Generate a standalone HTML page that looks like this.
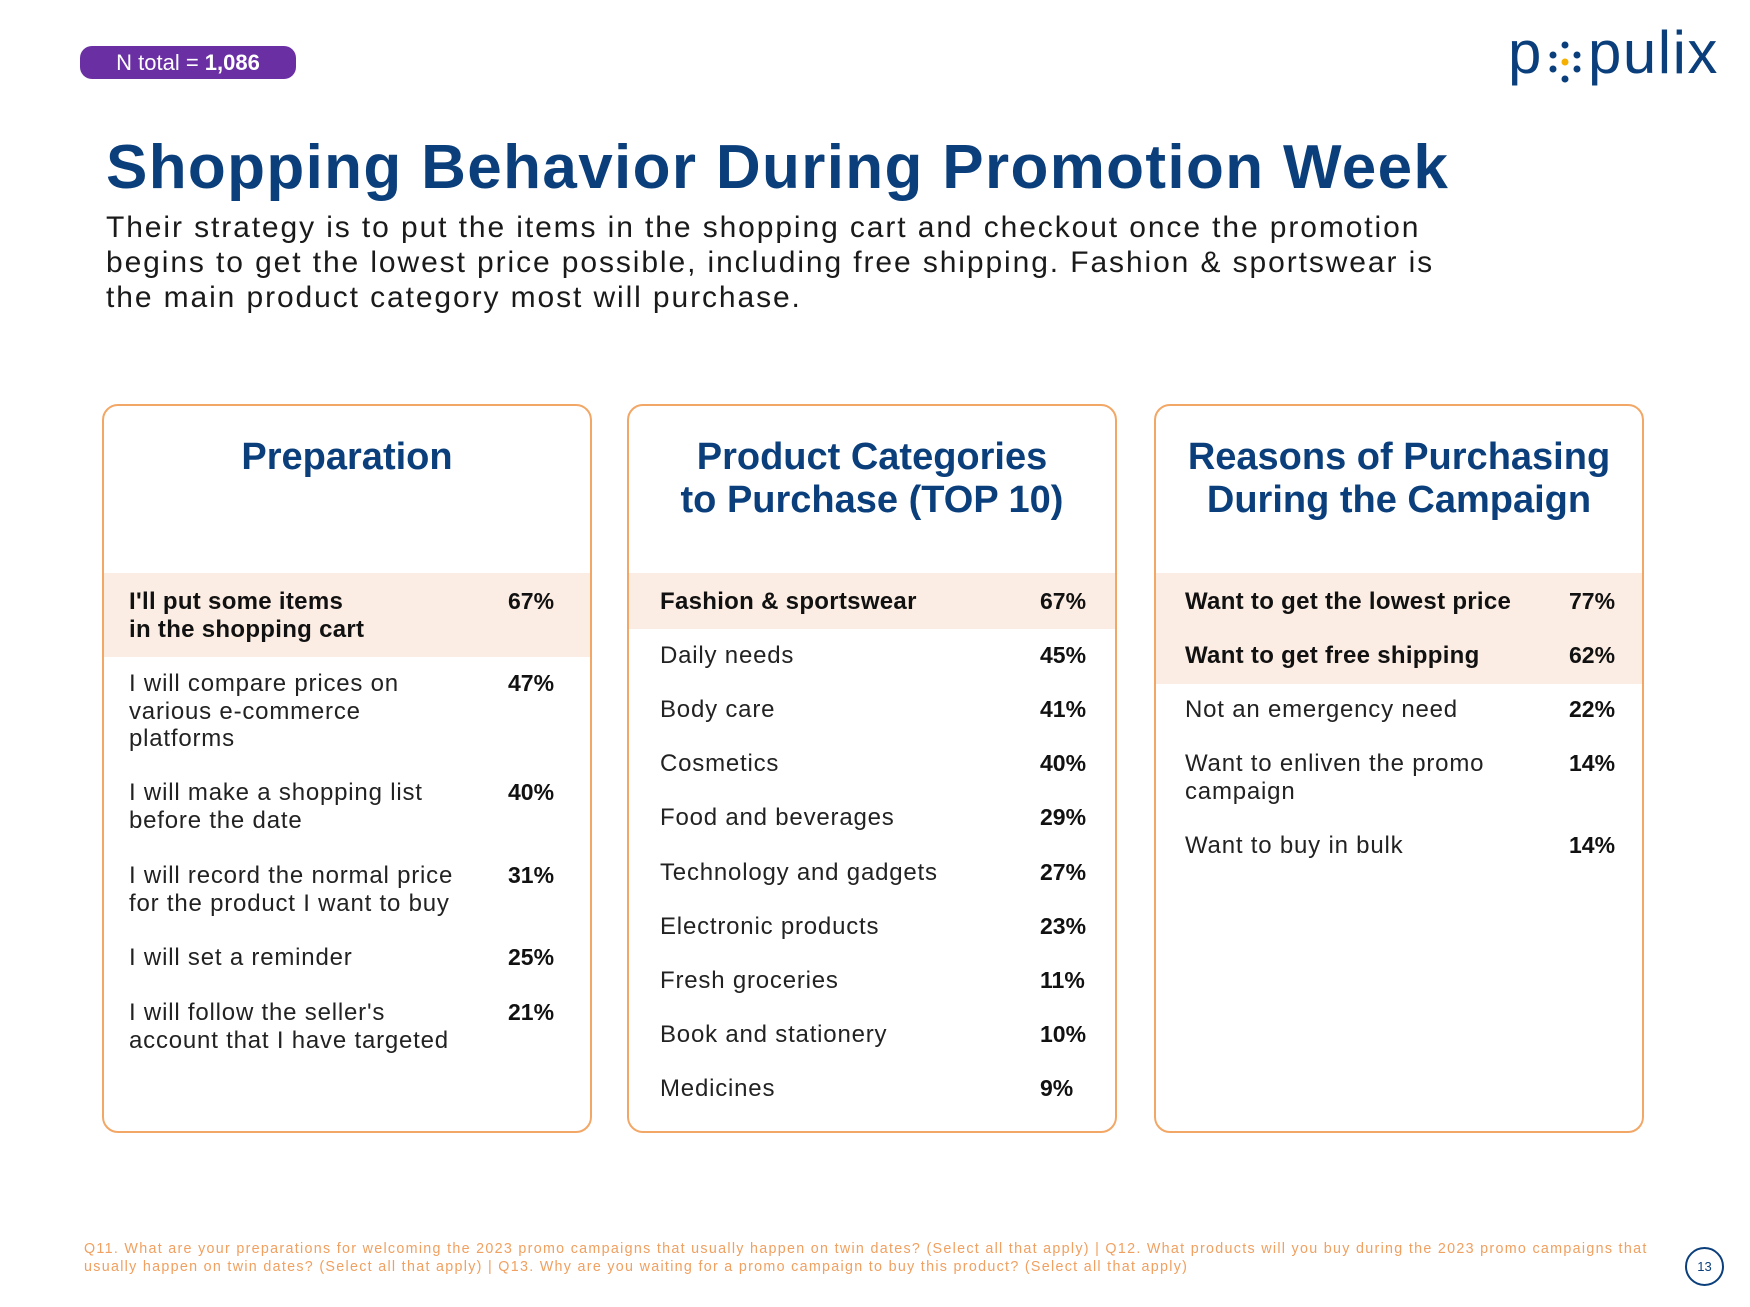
<!DOCTYPE html>
<html><head><meta charset="utf-8"><style>
*{margin:0;padding:0;box-sizing:border-box}
body{width:1750px;height:1307px;background:#fff;position:relative;overflow:hidden;font-family:"Liberation Sans",sans-serif;color:#111}
.a{position:absolute;white-space:nowrap}
.badge{left:80px;top:46px;width:216px;height:33px;background:#6a2fa3;border-radius:12px;color:#fff;font-size:22px;line-height:33px;text-align:center}
.title{left:106px;top:128px;font-size:62px;font-weight:bold;color:#0b3f7c;letter-spacing:1.35px;line-height:80px}
.sub{left:106px;top:210px;font-size:30px;line-height:35px;color:#1a1a1a;letter-spacing:1.9px}
.card{position:absolute;top:404px;width:490px;height:729px;border:2px solid #f2a766;border-radius:16px;overflow:hidden}
.card h2{position:absolute;left:0;right:0;top:30px;text-align:center;font-size:38px;line-height:43px;color:#0b3f7c}
.hl{position:absolute;left:0;right:0;background:#fbede3}
.t{position:absolute;font-size:24px;line-height:27.5px;color:#222;white-space:nowrap;letter-spacing:0.8px}
.p{position:absolute;font-size:23px;line-height:27.5px;font-weight:bold;color:#111}
.b{font-weight:bold;color:#111;letter-spacing:0.3px}
.foot{left:84px;top:1240px;font-size:14.3px;line-height:18px;color:#f0a060;letter-spacing:1.3px}
</style></head><body>
<div class="a badge">N total = <b>1,086</b></div>
<div class="a" style="left:1508px;top:18px;font-size:60px;color:#0b3f7c;line-height:70px">p</div>
<svg class="a" style="left:1548px;top:40px" width="34" height="44"><g fill="#0b3f7c"><circle cx="5" cy="15" r="3.5"/><circle cx="5" cy="29" r="3.5"/><circle cx="17" cy="5" r="3.5"/><circle cx="17" cy="39" r="3.5"/><circle cx="29" cy="15" r="3.5"/><circle cx="29" cy="29" r="3.5"/></g><circle cx="17" cy="22" r="3.5" fill="#f5b000"/></svg>
<div class="a" style="left:1588px;top:18px;font-size:60px;color:#0b3f7c;line-height:70px;letter-spacing:1.5px">pulix</div>
<div class="a title">Shopping Behavior During Promotion Week</div>
<div class="a sub">Their strategy is to put the items in the shopping cart and checkout once the promotion<br>begins to get the lowest price possible, including free shipping. Fashion &amp; sportswear is<br>the main product category most will purchase.</div>

<div class="card" style="left:102px">
<h2>Preparation</h2>
<div class="hl" style="top:167px;height:84px"></div>
<div class="t b" style="left:25px;top:182px">I'll put some items<br>in the shopping cart</div><div class="p" style="left:404px;top:182px">67%</div>
<div class="t" style="left:25px;top:264px">I will compare prices on<br>various e-commerce<br>platforms</div><div class="p" style="left:404px;top:264px">47%</div>
<div class="t" style="left:25px;top:373px">I will make a shopping list<br>before the date</div><div class="p" style="left:404px;top:373px">40%</div>
<div class="t" style="left:25px;top:456px">I will record the normal price<br>for the product I want to buy</div><div class="p" style="left:404px;top:456px">31%</div>
<div class="t" style="left:25px;top:538px">I will set a reminder</div><div class="p" style="left:404px;top:538px">25%</div>
<div class="t" style="left:25px;top:593px">I will follow the seller's<br>account that I have targeted</div><div class="p" style="left:404px;top:593px">21%</div>
</div>

<div class="card" style="left:627px">
<h2>Product Categories<br>to Purchase (TOP 10)</h2>
<div class="hl" style="top:167px;height:56px"></div>
<div class="t b" style="left:31px;top:182px">Fashion &amp; sportswear</div><div class="p" style="left:411px;top:182px">67%</div>
<div class="t" style="left:31px;top:236px">Daily needs</div><div class="p" style="left:411px;top:236px">45%</div>
<div class="t" style="left:31px;top:290px">Body care</div><div class="p" style="left:411px;top:290px">41%</div>
<div class="t" style="left:31px;top:344px">Cosmetics</div><div class="p" style="left:411px;top:344px">40%</div>
<div class="t" style="left:31px;top:398px">Food and beverages</div><div class="p" style="left:411px;top:398px">29%</div>
<div class="t" style="left:31px;top:453px">Technology and gadgets</div><div class="p" style="left:411px;top:453px">27%</div>
<div class="t" style="left:31px;top:507px">Electronic products</div><div class="p" style="left:411px;top:507px">23%</div>
<div class="t" style="left:31px;top:561px">Fresh groceries</div><div class="p" style="left:411px;top:561px">11%</div>
<div class="t" style="left:31px;top:615px">Book and stationery</div><div class="p" style="left:411px;top:615px">10%</div>
<div class="t" style="left:31px;top:669px">Medicines</div><div class="p" style="left:411px;top:669px">9%</div>
</div>

<div class="card" style="left:1154px">
<h2>Reasons of Purchasing<br>During the Campaign</h2>
<div class="hl" style="top:167px;height:111px"></div>
<div class="t b" style="left:29px;top:182px">Want to get the lowest price</div><div class="p" style="left:413px;top:182px">77%</div>
<div class="t b" style="left:29px;top:236px">Want to get free shipping</div><div class="p" style="left:413px;top:236px">62%</div>
<div class="t" style="left:29px;top:290px">Not an emergency need</div><div class="p" style="left:413px;top:290px">22%</div>
<div class="t" style="left:29px;top:344px">Want to enliven the promo<br>campaign</div><div class="p" style="left:413px;top:344px">14%</div>
<div class="t" style="left:29px;top:426px">Want to buy in bulk</div><div class="p" style="left:413px;top:426px">14%</div>
</div>

<div class="a foot">Q11. What are your preparations for welcoming the 2023 promo campaigns that usually happen on twin dates? (Select all that apply) | Q12. What products will you buy during the 2023 promo campaigns that<br>usually happen on twin dates? (Select all that apply) | Q13. Why are you waiting for a promo campaign to buy this product? (Select all that apply)</div>
<div class="a" style="left:1685px;top:1247px;width:39px;height:39px;border:2px solid #0b3f7c;border-radius:50%;font-size:13px;color:#0b3f7c;text-align:center;line-height:35px">13</div>
</body></html>
